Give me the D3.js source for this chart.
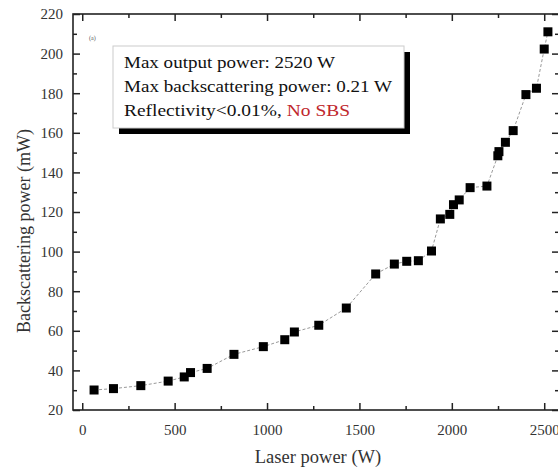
<!DOCTYPE html>
<html><head><meta charset="utf-8">
<script src="https://cdn.jsdelivr.net/npm/d3@7"></script>
<style>body{margin:0;background:#fff}svg{display:block}text{font-family:"Liberation Serif","Times New Roman",serif}</style>
</head><body>
<script>
const laserPower = [64,169,317,465,552,586,676,821,980,1096,1148,1280,1429,1588,1689,1756,1819,1890,1938,1989,2009,2040,2099,2190,2249,2255,2290,2332,2401,2458,2500,2520];
const backscatter = [30.1,30.8,32.3,34.6,36.7,38.9,41.0,48.1,52.0,55.5,59.4,62.8,71.5,88.7,93.7,95.1,95.4,100.3,116.5,118.8,123.7,126.1,132.3,133.1,148.4,150.5,155.2,161.1,179.3,182.5,202.3,211.0];
const xTicks = [0,500,1000,1500,2000,2500];
const xMinor = [250,750,1250,1750,2250];
const yTicks = [20,40,60,80,100,120,140,160,180,200,220];
const yMinor = [30,50,70,90,110,130,150,170,190,210];
const legendLines = ["Max output power: 2520 W","Max backscattering power: 0.21 W","Reflectivity<0.01%, "];
const legendRed = "No SBS";

const W=558,H=469;
const svg=d3.select("body").append("svg").attr("width",W).attr("height",H);
const L=73,R=559,T=14,B=410;
const x=d3.scaleLinear().domain([-50,2580]).range([L,R]);
const y=d3.scaleLinear().domain([20,220]).range([B,T]);
const ax="#222";

svg.append("rect").attr("x",L).attr("y",T).attr("width",R-L).attr("height",B-T)
  .attr("fill","none").attr("stroke",ax).attr("stroke-width",1.6);

const gB=svg.append("g").attr("transform",`translate(0,${B})`)
  .call(d3.axisBottom(x).tickValues(xTicks).tickSize(-7).tickPadding(14).tickFormat(d3.format("d")));
const gBm=svg.append("g").attr("transform",`translate(0,${B})`)
  .call(d3.axisBottom(x).tickValues(xMinor).tickSize(-4).tickFormat(""));
const gT=svg.append("g").attr("transform",`translate(0,${T})`)
  .call(d3.axisTop(x).tickValues(xTicks).tickSize(-7).tickFormat(""));
const gTm=svg.append("g").attr("transform",`translate(0,${T})`)
  .call(d3.axisTop(x).tickValues(xMinor).tickSize(-4).tickFormat(""));
const gL=svg.append("g").attr("transform",`translate(${L},0)`)
  .call(d3.axisLeft(y).tickValues(yTicks).tickSize(-7).tickPadding(10).tickFormat(d3.format("d")));
const gLm=svg.append("g").attr("transform",`translate(${L},0)`)
  .call(d3.axisLeft(y).tickValues(yMinor).tickSize(-4).tickFormat(""));
const gR=svg.append("g").attr("transform",`translate(${R},0)`)
  .call(d3.axisRight(y).tickValues(yTicks).tickSize(-7).tickFormat(""));
const gRm=svg.append("g").attr("transform",`translate(${R},0)`)
  .call(d3.axisRight(y).tickValues(yMinor).tickSize(-4).tickFormat(""));
[gB,gBm,gT,gTm,gL,gLm,gR,gRm].forEach(g=>{
  g.select(".domain").remove();
  g.selectAll("line").attr("stroke",ax).attr("stroke-width",1.5);
  g.selectAll("text").attr("fill","#333").style("font-size","15px").style("font-family",'"Liberation Serif",serif');
});

const pts=laserPower.map((v,i)=>[v,backscatter[i]]);
svg.append("path").datum(pts).attr("fill","none").attr("stroke","#999").attr("stroke-width",1)
  .attr("stroke-dasharray","3,2")
  .attr("d",d3.line().x(d=>x(d[0])).y(d=>y(d[1])));
const s=9;
svg.selectAll("rect.pt").data(pts).enter().append("rect").attr("class","pt")
  .attr("x",d=>x(d[0])-s/2).attr("y",d=>y(d[1])-s/2).attr("width",s).attr("height",s).attr("fill","#000");

svg.append("text").attr("x",318).attr("y",463).attr("text-anchor","middle")
  .attr("fill","#333").style("font-size","18.5px").text("Laser power (W)");
svg.append("text").attr("transform",`translate(30,231) rotate(-90)`).attr("text-anchor","middle")
  .attr("fill","#333").style("font-size","18px").text("Backscattering power (mW)");
svg.append("text").attr("x",89).attr("y",40).attr("fill","#555").style("font-size","6px").text("(a)");

const bx=113,by=46,bw=291,bh=82,off=6;
svg.append("rect").attr("x",bx+off).attr("y",by+off).attr("width",bw).attr("height",bh).attr("fill","#000");
svg.append("rect").attr("x",bx).attr("y",by).attr("width",bw).attr("height",bh).attr("fill","#fff")
  .attr("stroke","#ccc").attr("stroke-width",1);
const lens=[211,268,226];
legendLines.forEach((t,i)=>{
  const tx=svg.append("text").attr("x",124).attr("y",68+i*24).attr("fill","#111").style("font-size","17.5px")
    .attr("textLength",lens[i]).attr("lengthAdjust","spacingAndGlyphs").text(t);
  if(i===2) tx.append("tspan").attr("fill","#c0272d").text(legendRed);
});
</script>
</body></html>
